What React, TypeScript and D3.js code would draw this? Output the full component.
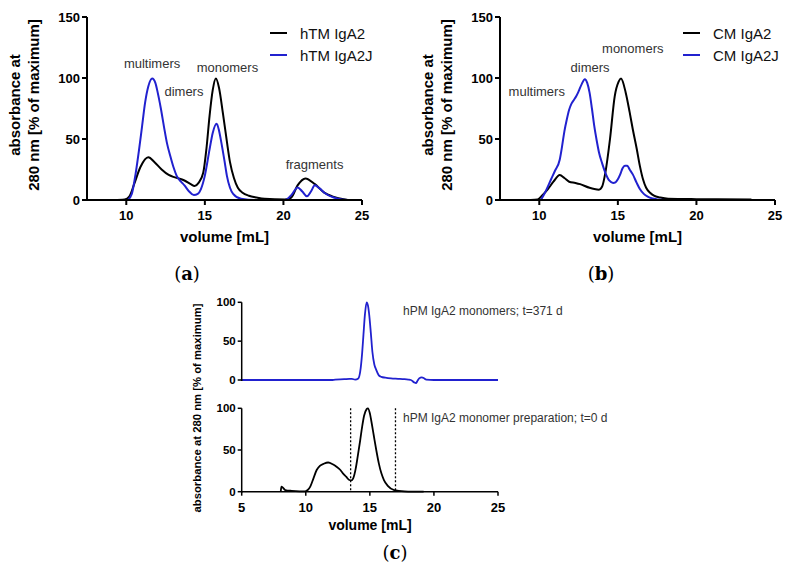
import React from "react";
import * as d3 from "d3";

// ---------- DATA ----------
// Panel (a): hTM
const hTM_IgA2: [number, number][] = [
  [9.2, 0], [9.9, 0.5], [10.2, 3], [10.5, 13], [10.9, 27], [11.4, 35], [11.8, 31], [12.25, 25],
  [12.7, 20.5], [13.1, 18.5], [13.7, 16], [14.1, 13], [14.35, 11.5], [14.6, 14], [14.9, 22.5],
  [15.1, 42], [15.3, 69], [15.5, 90], [15.7, 99.5], [15.9, 92], [16.15, 71], [16.4, 48], [16.6, 31],
  [16.85, 18], [17.1, 10], [17.4, 6], [17.8, 3.5], [18.3, 2], [18.8, 1], [20.1, 0.5], [20.5, 2],
  [20.9, 12], [21.4, 17.7], [22.0, 13], [22.6, 6], [23.1, 3], [23.5, 1.5], [24.1, 0],
];
const hTM_IgA2J: [number, number][] = [
  [10.1, 0], [10.35, 5], [10.6, 22], [10.8, 40], [11.0, 60], [11.2, 80], [11.4, 93], [11.65, 99.5],
  [11.85, 96], [12.0, 88], [12.2, 75], [12.4, 60], [12.6, 46], [12.8, 36], [13.0, 27], [13.2, 20],
  [13.45, 15.5], [13.7, 12], [14.0, 7], [14.3, 4], [14.55, 5], [14.75, 9], [15.0, 20], [15.3, 41.5],
  [15.5, 55], [15.75, 62.5], [15.9, 57], [16.05, 47], [16.25, 32], [16.4, 20], [16.6, 10], [16.8, 5],
  [17.3, 1], [18.2, 0], [20.1, 0], [20.5, 4], [20.9, 10.3], [21.2, 7], [21.5, 3], [21.75, 7],
  [22.0, 12], [22.3, 9.5], [22.6, 6], [23.2, 2], [23.7, 0.5], [24.1, 0],
];
// Panel (b): CM
const CM_IgA2: [number, number][] = [
  [9.45, 0], [9.9, 0.5], [10.2, 4], [10.55, 9], [10.9, 15], [11.3, 20.4], [11.6, 18], [11.9, 15],
  [12.3, 14], [12.6, 13], [13.2, 10], [13.5, 9], [13.8, 8.5], [14.0, 11], [14.2, 22], [14.5, 50],
  [14.8, 85], [15.05, 97], [15.2, 99.5], [15.5, 88], [15.75, 72], [15.95, 58], [16.2, 42], [16.4, 28],
  [16.6, 17], [16.8, 10], [17.05, 6], [17.3, 3.5], [17.7, 2], [18.2, 1], [20, 0.7], [23.5, 0.5],
];
const CM_IgA2J: [number, number][] = [
  [10.1, 0], [10.4, 7], [10.75, 17], [11.0, 24], [11.3, 33], [11.45, 44], [11.6, 56.5], [11.75, 66],
  [11.9, 74], [12.05, 79], [12.2, 82], [12.35, 85], [12.5, 89], [12.7, 95], [12.9, 99], [13.05, 96],
  [13.2, 88], [13.35, 75], [13.5, 60.5], [13.65, 49], [13.8, 39], [14.0, 30], [14.2, 22.5],
  [14.45, 16], [14.7, 14], [14.85, 14.5], [15.0, 17], [15.15, 21], [15.3, 26], [15.45, 28],
  [15.6, 28], [15.75, 25], [15.95, 21], [16.2, 14], [16.4, 9], [16.65, 5], [16.9, 2.7], [17.2, 1.2],
  [17.5, 0.5], [18, 0],
];
// Panel (c)
const hPM_t371: [number, number][] = [
  [5, 0], [12.0, 0], [12.3, 0.5], [13.0, 1], [13.4, 1.5], [13.6, 1.5], [13.85, 0.5], [14.1, 2],
  [14.25, 11], [14.4, 35], [14.5, 58], [14.62, 85], [14.75, 100], [14.85, 96], [14.95, 84],
  [15.08, 60], [15.2, 36], [15.35, 20], [15.5, 13], [15.7, 6], [15.9, 4], [16.2, 3], [16.65, 2],
  [17.2, 1.5], [17.7, 1], [18.0, 0.5], [18.2, 0], [18.45, -3], [18.6, -4], [18.72, -1], [18.85, 2],
  [19.05, 3.5], [19.25, 2], [19.4, 0.5], [20, 0], [25, 0],
];
const hPM_t0: [number, number][] = [
  [8.05, 0.5], [8.1, 6], [8.2, 5], [8.4, 2], [8.9, 1], [9.5, 0.5], [9.95, 0.5], [10.15, 2],
  [10.35, 6], [10.6, 16], [10.85, 26], [11.1, 31], [11.4, 33.5], [11.75, 35], [12.1, 33], [12.4, 30],
  [12.7, 26], [12.9, 22], [13.15, 18], [13.4, 14], [13.55, 13.5], [13.7, 16], [13.9, 28], [14.05, 42],
  [14.25, 62], [14.4, 78], [14.55, 91], [14.75, 99], [14.85, 100], [15.0, 94], [15.1, 86], [15.3, 68],
  [15.5, 50], [15.7, 34], [15.9, 22], [16.1, 14], [16.4, 7], [16.9, 2], [17.7, 0.5], [19.2, 0],
];
const cutLines = [13.5, 17];

const abXTicks = [10, 15, 20, 25];
const abYTicks = [0, 50, 100, 150];
const cXTicks = [5, 10, 15, 20, 25];
const cYTicks = [0, 50, 100];

const legendA = ["hTM IgA2", "hTM IgA2J"];
const legendB = ["CM IgA2", "CM IgA2J"];
const annotA = [
  { t: "multimers", x: 11.64, y: 112 },
  { t: "dimers", x: 13.67, y: 89 },
  { t: "monomers", x: 16.44, y: 109 },
  { t: "fragments", x: 21.98, y: 29 },
];
const annotB = [
  { t: "monomers", x: 15.95, y: 124 },
  { t: "dimers", x: 13.23, y: 109 },
  { t: "multimers", x: 9.84, y: 89 },
];

const BLUE = "#2121cf";
const SANS = "Liberation Sans, Arial, sans-serif";
const SERIF = "DejaVu Serif, serif";

function PanelLabel({ x, y, letter }: { x: number; y: number; letter: string }) {
  return (
    <text x={x} y={y} textAnchor="middle" fontFamily={SERIF} fontSize={18}>
      (<tspan fontWeight="bold">{letter}</tspan>)
    </text>
  );
}

function Panel({ left, right, data, legend, annot, label }: any) {
  const x = d3.scaleLinear().domain([7.5, 25]).range([left, right]);
  const y = d3.scaleLinear().domain([0, 150]).range([200, 17]);
  const line = d3
    .line<[number, number]>()
    .x((d) => x(d[0]))
    .y((d) => y(d[1]))
    .curve(d3.curveMonotoneX);
  const colors = ["#000", BLUE];
  const cx = (left + right) / 2;
  return (
    <g>
      {data.map((d: any, i: number) => (
        <path key={i} d={line(d) || ""} fill="none" stroke={colors[i]} strokeWidth={2} />
      ))}
      <line x1={left} x2={right} y1={y(0)} y2={y(0)} stroke="#000" strokeWidth={2} />
      <line x1={left} x2={left} y1={y(0) + 1} y2={y(150)} stroke="#000" strokeWidth={2} />
      {abXTicks.map((t) => (
        <g key={t}>
          <line x1={x(t)} x2={x(t)} y1={y(0)} y2={y(0) + 5} stroke="#000" strokeWidth={2} />
          <text x={x(t)} y={y(0) + 20} textAnchor="middle" fontFamily={SANS} fontWeight="bold" fontSize={13}>
            {t}
          </text>
        </g>
      ))}
      {abYTicks.map((t) => (
        <g key={t}>
          <line x1={left - 5} x2={left} y1={y(t)} y2={y(t)} stroke="#000" strokeWidth={2} />
          <text x={left - 7} y={y(t) + 4.5} textAnchor="end" fontFamily={SANS} fontWeight="bold" fontSize={13}>
            {t}
          </text>
        </g>
      ))}
      <text x={cx} y={242} textAnchor="middle" fontFamily={SANS} fontWeight="bold" fontSize={15}>
        volume [mL]
      </text>
      <g transform={`translate(${left - 72},105) rotate(-90)`}>
        <text x={0} y={5} textAnchor="middle" fontFamily={SANS} fontWeight="bold" fontSize={15}>
          absorbance at
        </text>
        <text x={0} y={24} textAnchor="middle" fontFamily={SANS} fontWeight="bold" fontSize={15}>
          280 nm [% of maximum]
        </text>
      </g>
      {legend.map((l: string, i: number) => (
        <g key={l}>
          <line x1={right - 92} x2={right - 75} y1={33 + i * 22} y2={33 + i * 22} stroke={colors[i]} strokeWidth={2} />
          <text x={right - 62} y={38.5 + i * 22} fontFamily={SANS} fontSize={15} fill="#111">
            {l}
          </text>
        </g>
      ))}
      {annot.map((a: any) => (
        <text key={a.t} x={x(a.x)} y={y(a.y) + 4.5} textAnchor="middle" fontFamily={SANS} fontSize={13} fill="#333">
          {a.t}
        </text>
      ))}
      <PanelLabel x={label.x} y={280} letter={label.t} />
    </g>
  );
}

function PanelC() {
  const x = d3.scaleLinear().domain([5, 25]).range([241.7, 498]);
  const yTop = d3.scaleLinear().domain([0, 100]).range([380, 302.3]);
  const yBot = d3.scaleLinear().domain([0, 100]).range([491.7, 408.3]);
  const lineT = d3.line<[number, number]>().x((d) => x(d[0])).y((d) => yTop(d[1])).curve(d3.curveMonotoneX);
  const lineB = d3.line<[number, number]>().x((d) => x(d[0])).y((d) => yBot(d[1])).curve(d3.curveMonotoneX);
  const left = x(5);
  return (
    <g>
      <path d={lineT(hPM_t371) || ""} fill="none" stroke={BLUE} strokeWidth={1.8} />
      <path d={lineB(hPM_t0) || ""} fill="none" stroke="#000" strokeWidth={1.8} />
      {cutLines.map((c) => (
        <line key={c} x1={x(c)} x2={x(c)} y1={yBot(100)} y2={yBot(0)} stroke="#000" strokeWidth={1.3} strokeDasharray="2,2" />
      ))}
      {[yTop, yBot].map((ys, k) => (
        <g key={k}>
          <line x1={left} x2={left} y1={ys(0) + 1} y2={ys(100)} stroke="#000" strokeWidth={1.5} />
          {cYTicks.map((t) => (
            <g key={t}>
              <line x1={left - 4} x2={left} y1={ys(t)} y2={ys(t)} stroke="#000" strokeWidth={1.5} />
              <text x={left - 6} y={ys(t) + 4} textAnchor="end" fontFamily={SANS} fontWeight="bold" fontSize={11.5}>
                {t}
              </text>
            </g>
          ))}
        </g>
      ))}
      <line x1={left} x2={x(25)} y1={yBot(0)} y2={yBot(0)} stroke="#000" strokeWidth={1.5} />
      {cXTicks.map((t) => (
        <g key={t}>
          <line x1={x(t)} x2={x(t)} y1={yBot(0)} y2={yBot(0) + 4} stroke="#000" strokeWidth={1.5} />
          <text x={x(t)} y={yBot(0) + 20} textAnchor="middle" fontFamily={SANS} fontWeight="bold" fontSize={13}>
            {t}
          </text>
        </g>
      ))}
      <text x={403} y={315} fontFamily={SANS} fontSize={12} fill="#333">
        hPM IgA2 monomers; t=371 d
      </text>
      <text x={403} y={422} fontFamily={SANS} fontSize={12} fill="#333">
        hPM IgA2 monomer preparation; t=0 d
      </text>
      <text x={370} y={530} textAnchor="middle" fontFamily={SANS} fontWeight="bold" fontSize={14}>
        volume [mL]
      </text>
      <text
        transform="translate(197,408) rotate(-90)"
        x={0}
        y={4}
        textAnchor="middle"
        fontFamily={SANS}
        fontWeight="bold"
        fontSize={11.3}
      >
        absorbance at 280 nm [% of maximum]
      </text>
      <PanelLabel x={395} y={559} letter="c" />
    </g>
  );
}

export default function App() {
  return (
    <svg width={791} height={573} style={{ position: "absolute", left: 0, top: 0, background: "#fff" }}>
      <rect width={791} height={573} fill="#fff" />
      <Panel left={87} right={362} data={[hTM_IgA2, hTM_IgA2J]} legend={legendA} annot={annotA} label={{ t: "a", x: 187 }} />
      <Panel left={500} right={775} data={[CM_IgA2, CM_IgA2J]} legend={legendB} annot={annotB} label={{ t: "b", x: 601 }} />
      <PanelC />
    </svg>
  );
}
